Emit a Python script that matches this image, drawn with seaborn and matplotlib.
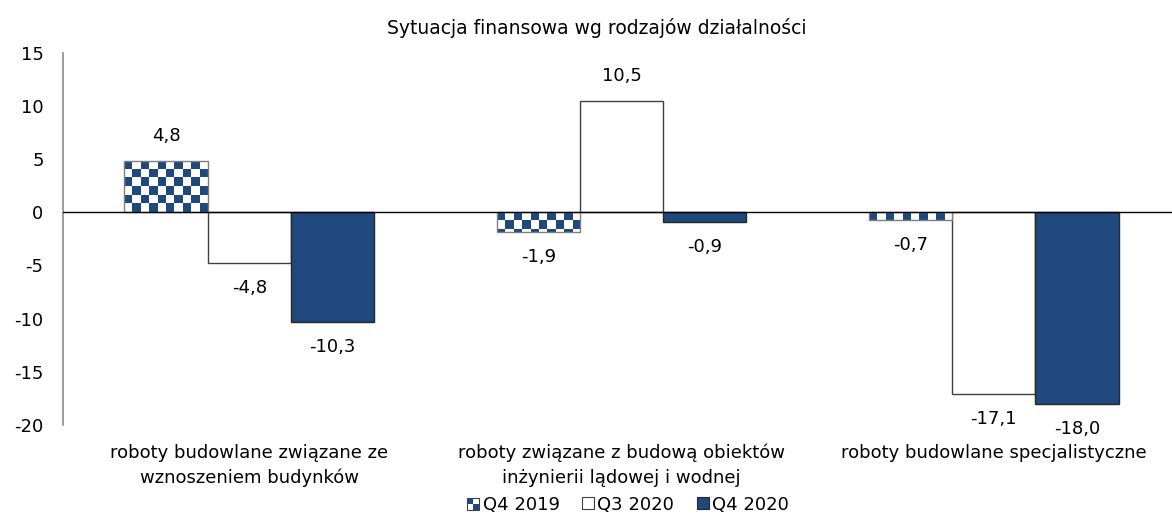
import numpy as np
import pandas as pd
import matplotlib
matplotlib.use('Agg')
import matplotlib.pyplot as plt
import seaborn as sns
from matplotlib.colors import ListedColormap
from matplotlib.patches import Patch, Rectangle

kategorie = ['roboty budowlane związane ze\nwznoszeniem budynków',
             'roboty związane z budową obiektów\ninżynierii lądowej i wodnej',
             'roboty budowlane specjalistyczne']
okresy = ['Q4 2019', 'Q3 2020', 'Q4 2020']
q4_2019 = [4.8, -1.9, -0.7]
q3_2020 = [-4.8, 10.5, -17.1]
q4_2020 = [-10.3, -0.9, -18.0]

navy = '#1F497D'

df = pd.DataFrame({
    'kategoria': kategorie * 3,
    'okres': [okresy[0]] * 3 + [okresy[1]] * 3 + [okresy[2]] * 3,
    'wartosc': q4_2019 + q3_2020 + q4_2020,
})

sns.set_style('white')
plt.rcParams['font.family'] = ['DejaVu Sans']
plt.rcParams['axes.unicode_minus'] = False
plt.rcParams['text.color'] = 'black'
plt.rcParams['xtick.color'] = 'black'
plt.rcParams['ytick.color'] = 'black'

fig = plt.figure(figsize=(11.72, 5.17), dpi=100)
ax = fig.add_axes([0.0538, 0.178, 0.953, 0.72])

sns.barplot(data=df, x='kategoria', y='wartosc', hue='okres', hue_order=okresy,
            palette=['white', 'white', navy], saturation=1, width=0.67,
            errorbar=None, legend=False, ax=ax)

edges = ['#7f7f7f', '#404040', '#262626']
for cont, ec in zip(ax.containers, edges):
    for bar in cont:
        bar.set_edgecolor(ec)
        bar.set_linewidth(1)

# checkerboard fill for Q4 2019
cmap = ListedColormap(['white', navy])
cell_y = 0.8
for bar in ax.containers[0]:
    x0, w = bar.get_x(), bar.get_width()
    y0, h = bar.get_y(), bar.get_height()
    ylo, yhi = min(y0, y0 + h), max(y0, y0 + h)
    ny = int(np.ceil((yhi - ylo) / cell_y)) + 1
    nx = 10
    board = 1 - (np.add.outer(np.arange(ny), np.arange(nx)) % 2)
    top = yhi
    im = ax.imshow(board, cmap=cmap, extent=[x0, x0 + w, top - ny * cell_y, top],
                   aspect='auto', interpolation='nearest', zorder=bar.get_zorder())
    im.set_clip_path(bar)
    bar.set_facecolor('none')
    bar.set_zorder(bar.get_zorder() + 0.1)

# value labels
for cont in ax.containers:
    for bar in cont:
        v = bar.get_height()
        xc = bar.get_x() + bar.get_width() / 2
        off = 18 if v > 0 else -18
        ax.annotate(f'{v:.1f}'.replace('.', ','), (xc, v), xytext=(0, off),
                    textcoords='offset points', ha='center', va='center', fontsize=13)

ax.set_xlim(-0.5, 2.5)
ax.set_ylim(-20, 15)
ax.set_yticks(range(-20, 16, 5))
ax.axhline(0, color='black', lw=1, zorder=5)
ax.set_xlabel('')
ax.set_ylabel('')
ax.tick_params(axis='both', length=0, labelsize=13)
ax.tick_params(axis='y', pad=14)
ax.tick_params(axis='x', pad=13.5)
for lab in ax.get_xticklabels():
    lab.set_linespacing(1.45)
    lab.set_verticalalignment('top')
for s in ['top', 'right', 'bottom']:
    ax.spines[s].set_visible(False)
ax.spines['left'].set_color('#8c8c8c')
ax.spines['left'].set_linewidth(1.2)

fig.text(0.509, 0.946, 'Sytuacja finansowa wg rodzajów działalności',
         ha='center', va='center', fontsize=13.5)


class CheckerHandler:
    def legend_artist(self, legend, orig_handle, fontsize, handlebox):
        x0, y0 = handlebox.xdescent, handlebox.ydescent
        s = min(handlebox.width, handlebox.height)
        tr = handlebox.get_transform()
        outer = Rectangle((x0, y0), s, s, facecolor='white', edgecolor='#404040', lw=0.8, transform=tr)
        a = Rectangle((x0, y0 + s / 2), s / 2, s / 2, facecolor=navy, lw=0, transform=tr)
        b = Rectangle((x0 + s / 2, y0), s / 2, s / 2, facecolor=navy, lw=0, transform=tr)
        for p in (outer, a, b):
            handlebox.add_artist(p)
        return outer


h0 = Patch(facecolor='white', edgecolor='#404040')
h1 = Patch(facecolor='white', edgecolor='#404040', lw=0.8)
h2 = Patch(facecolor=navy, edgecolor='#262626', lw=0.8)
fig.legend([h0, h1, h2], okresy, loc='center', bbox_to_anchor=(0.536, 0.024),
           ncol=3, frameon=False, fontsize=13, handlelength=0.65, handleheight=0.65,
           handletextpad=0.2, columnspacing=1.25,
           handler_map={h0: CheckerHandler()})

fig.savefig('out.png', dpi=100)
